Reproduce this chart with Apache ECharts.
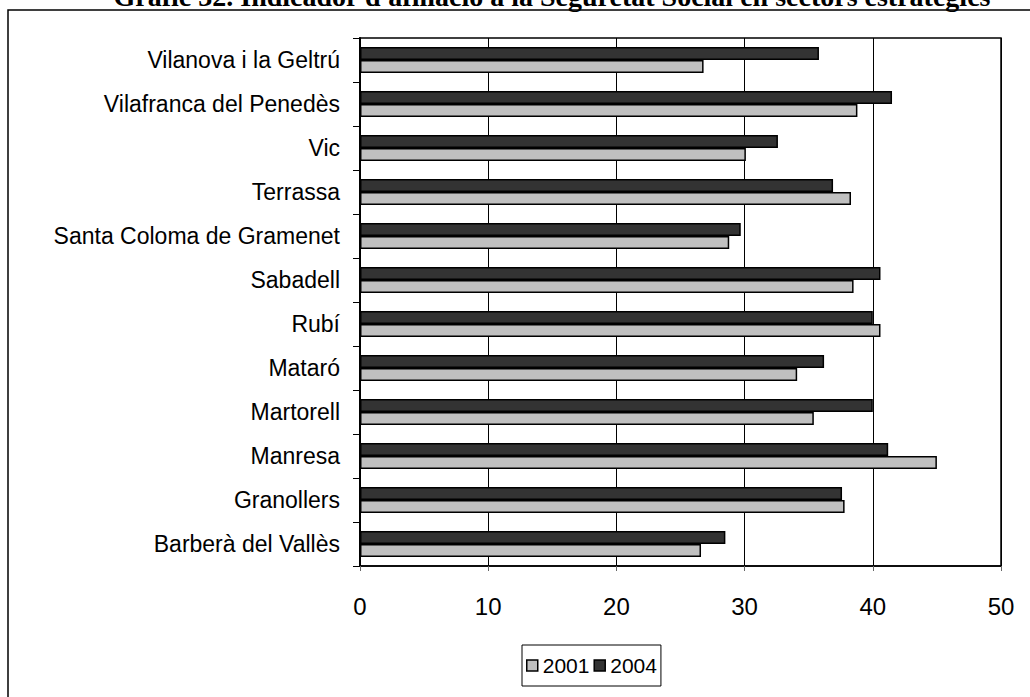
<!DOCTYPE html>
<html>
<head>
<meta charset="utf-8">
<script src="https://cdn.jsdelivr.net/npm/echarts@6/dist/echarts.min.js"></script>
<style>
  html, body { margin: 0; padding: 0; background: #fff; }
  #chart { width: 1030px; height: 697px; }
</style>
</head>
<body>
<div id="chart"></div>
<script>
// categories, bottom to top (as in the source chart)
const cities = [
  'Barberà del Vallès', 'Granollers', 'Manresa', 'Martorell', 'Mataró', 'Rubí',
  'Sabadell', 'Santa Coloma de Gramenet', 'Terrassa', 'Vic',
  'Vilafranca del Penedès', 'Vilanova i la Geltrú'
]
const values2001 = [26.6, 37.8, 45.0, 35.4, 34.1, 40.6, 38.5, 28.8, 38.3, 30.1, 38.8, 26.8]
const values2004 = [28.5, 37.6, 41.2, 40.0, 36.2, 40.0, 40.6, 29.7, 36.9, 32.6, 41.5, 35.8]
const xTicks = [0, 10, 20, 30, 40, 50]

const titleText = 'Gràfic 32. Indicador d\'afiliació a la Seguretat Social en sectors estratègics'

const chart = echarts.init(document.getElementById('chart'), null, { renderer: 'svg' })

const option = {
  animation: false,
  backgroundColor: '#fff',
  textStyle: { fontFamily: 'Liberation Sans' },
  graphic: [
    {
      type: 'rect',
      shape: { x: 8, y: 10, width: 1100, height: 800 },
      style: { fill: 'none', stroke: '#000', lineWidth: 1.5 }
    },
    {
      type: 'text',
      x: 552, y: 10,
      style: {
        text: titleText,
        fontFamily: 'Liberation Serif',
        fontWeight: 'bold',
        fontSize: 28,
        fill: '#000',
        align: 'center',
        verticalAlign: 'bottom'
      }
    }
  ],
  grid: {
    left: 360, right: 29, top: 38, bottom: 131,
    show: true,
    borderColor: '#000',
    borderWidth: 1.5
  },
  legend: {
    data: ['2001', '2004'],
    left: 522, top: 645,
    orient: 'horizontal',
    icon: 'rect',
    itemWidth: 11, itemHeight: 11,
    itemGap: 4,
    padding: [10, 4],
    borderColor: '#000', borderWidth: 1,
    itemStyle: { borderColor: '#000', borderWidth: 1.5 },
    textStyle: { fontFamily: 'Liberation Sans', fontSize: 21, color: '#000' }
  },
  xAxis: {
    type: 'value',
    min: xTicks[0], max: xTicks[xTicks.length - 1], interval: 10,
    axisLine: { show: true, lineStyle: { color: '#000', width: 1.5 } },
    axisTick: { show: true, length: 5, lineStyle: { color: '#666' } },
    splitLine: { show: true, lineStyle: { color: '#000', width: 1 } },
    axisLabel: { fontSize: 24, color: '#000', margin: 28, fontFamily: 'Liberation Sans' }
  },
  yAxis: {
    type: 'category',
    data: cities,
    axisLine: { show: true, lineStyle: { color: '#000', width: 2 } },
    axisTick: { show: true, length: 7, lineStyle: { color: '#000' } },
    axisLabel: { fontSize: 23, color: '#000', margin: 20, fontFamily: 'Liberation Sans' }
  },
  series: [
    {
      name: '2004', type: 'bar', data: values2004,
      barWidth: 13, barGap: '0%',
      itemStyle: { color: '#333333', borderColor: '#000', borderWidth: 1.5 }
    },
    {
      name: '2001', type: 'bar', data: values2001,
      barWidth: 13, barGap: '0%',
      itemStyle: { color: '#c0c0c0', borderColor: '#000', borderWidth: 1.5 }
    }
  ]
}

chart.setOption(option)
</script>
</body>
</html>
